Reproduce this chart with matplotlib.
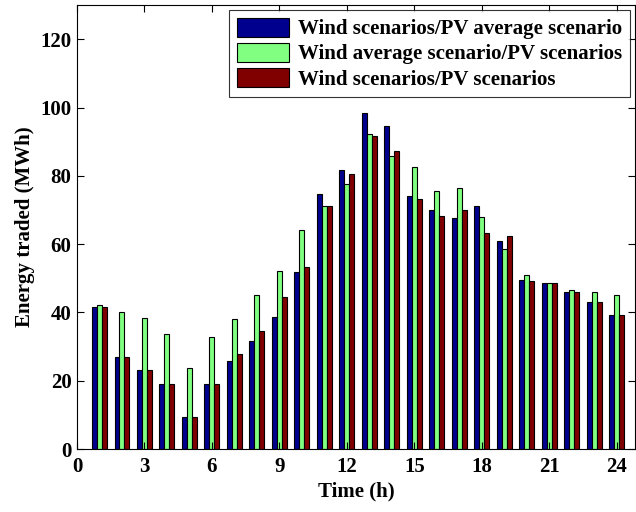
import numpy as np
import matplotlib
matplotlib.use('Agg')
import matplotlib.pyplot as plt

hours = np.arange(1, 25)
wind_scen_pv_avg = [41.7, 26.9, 23.0, 18.9, 9.5, 18.9, 25.7, 31.6, 38.6, 51.7, 74.8, 81.8,
                    98.3, 94.6, 74.2, 70.0, 67.6, 71.3, 61.0, 49.6, 48.5, 46.0, 43.1, 39.3]
wind_avg_pv_scen = [42.2, 40.2, 38.5, 33.6, 23.8, 32.7, 38.0, 45.0, 52.2, 64.0, 71.1, 77.7,
                    92.4, 85.8, 82.7, 75.6, 76.4, 68.0, 58.6, 50.9, 48.5, 46.7, 45.9, 45.1]
wind_scen_pv_scen = [41.7, 26.9, 23.0, 18.9, 9.5, 19.1, 27.7, 34.6, 44.6, 53.2, 71.1, 80.4,
                     91.8, 87.3, 73.3, 68.3, 70.0, 63.4, 62.5, 49.3, 48.5, 46.0, 43.1, 39.3]
labels = ['Wind scenarios/PV average scenario',
          'Wind average scenario/PV scenarios',
          'Wind scenarios/PV scenarios']
colors = ['#00008F', '#80FF80', '#800000']

plt.rcParams['font.family'] = ['Liberation Serif', 'DejaVu Serif']
plt.rcParams['font.weight'] = 'bold'

fig = plt.figure(figsize=(6.36, 5.12), dpi=100)
ax = fig.add_axes([0.121, 0.123, 0.877, 0.867])

w = 0.22
series = [wind_scen_pv_avg, wind_avg_pv_scen, wind_scen_pv_scen]
for i, (vals, lab, col) in enumerate(zip(series, labels, colors)):
    ax.bar(hours + (i - 1) * w, vals, width=w, color=col, edgecolor='black',
           linewidth=0.8, label=lab)

ax.set_xlim(0, 24.8)
ax.set_ylim(0, 130)
ax.set_xticks(np.arange(0, 25, 3))
ax.set_yticks(np.arange(0, 121, 20))
ax.tick_params(direction='in', top=True, right=True, labelsize=15, length=5)
ax.tick_params(axis='x', pad=6)
ax.tick_params(axis='y', pad=4)
for lbl in ax.get_xticklabels() + ax.get_yticklabels():
    lbl.set_fontweight('bold')
ax.set_xlabel('Time (h)', fontsize=15, fontweight='bold', labelpad=3)
ax.set_ylabel('Energy traded (MWh)', fontsize=15, fontweight='bold', labelpad=4)

leg = ax.legend(loc='upper right', fontsize=15, frameon=True, fancybox=False,
                edgecolor='black', handlelength=2.5, handleheight=1.05,
                borderaxespad=0.25, labelspacing=0.16, handletextpad=0.45,
                borderpad=0.35, prop={'weight': 'bold', 'size': 15})
leg.get_frame().set_linewidth(0.8)

fig.savefig('out.png', dpi=100)
